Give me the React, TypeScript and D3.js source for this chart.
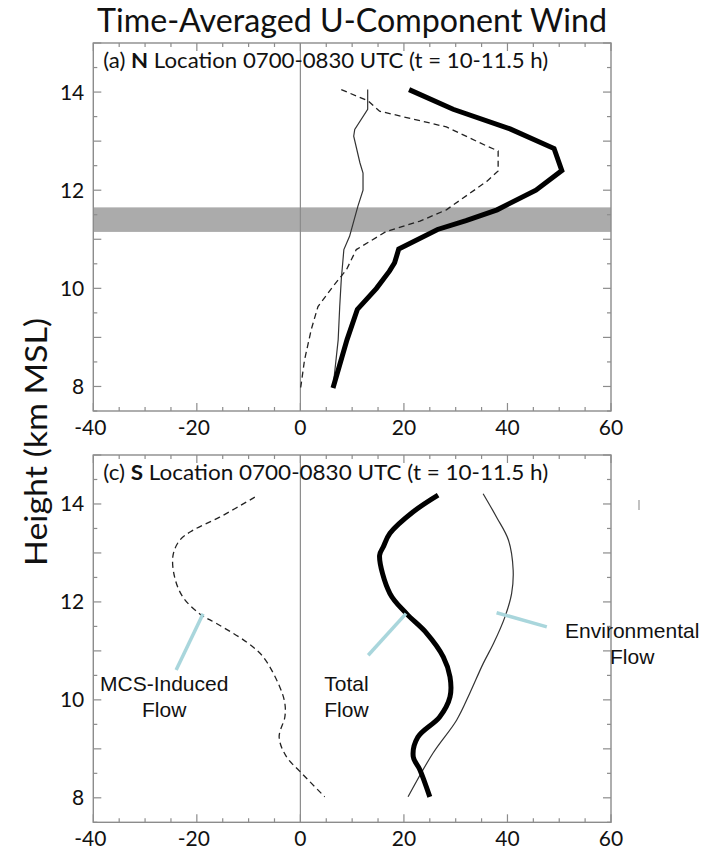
import React from 'react';
import * as d3 from 'd3';

// ---- data ----
const xTickLabels = [-40, -20, 0, 20, 40, 60];
const yTickLabels = [8, 10, 12, 14];
const bandRange = [11.15, 11.65];

// Panel (a) N location
const aTotalH = [14.05, 13.65, 13.25, 12.85, 12.4, 12.0, 11.6, 11.38, 11.2, 10.8, 10.52, 10.35, 10.0, 9.57, 8.95, 7.97];
const aTotalU = [21, 29.5, 40.5, 49, 50.5, 45.5, 38, 32, 26.5, 19, 18.2, 17.2, 14.7, 11, 9, 6.3];
const aMcsH = [14.05, 13.82, 13.61, 13.29, 12.9, 12.8, 12.39, 12.18, 11.6, 11.37, 11.16, 10.79, 10.38, 10.04, 9.63, 9.16, 8.54, 7.93];
const aMcsU = [7.9, 13.1, 15.3, 28.2, 36.0, 38.2, 38.2, 36.0, 28.2, 23.1, 16.6, 10.8, 8.9, 6.3, 3.4, 2.1, 0.8, 0];
const aEnvH = [14.05, 13.65, 13.24, 13.1, 12.56, 12.35, 12.0, 11.67, 11.06, 10.79, 10.18, 9.63, 8.95, 7.97];
const aEnvU = [13.0, 13.0, 10.5, 10.3, 11.5, 12.1, 12.1, 11.1, 9.5, 8.4, 7.9, 7.6, 7.3, 6.3];

// Panel (c) S location
const cMcsH = [14.14, 13.73, 13.46, 13.26, 12.95, 12.51, 12.1, 11.76, 11.56, 11.18, 10.88, 10.27, 9.93, 9.65, 9.24, 8.84, 8.53, 8.02];
const cMcsU = [-8.8, -15.6, -20.8, -23.3, -24.6, -24.3, -22.7, -19.5, -16.2, -10.4, -7.2, -4.0, -3.0, -3.0, -4.1, -2.7, 0, 4.7];
const cTotalH = [14.18, 13.84, 13.4, 13.12, 12.95, 12.17, 11.76, 11.36, 10.88, 10.47, 10.06, 9.65, 9.24, 8.84, 8.57, 8.02];
const cTotalU = [26.6, 21.8, 17.3, 16.0, 15.3, 17.3, 20.5, 24.4, 27.6, 28.9, 28.9, 26.9, 22.7, 21.8, 23.1, 25.0];
const cEnvH = [14.21, 13.73, 13.26, 12.65, 12.17, 11.69, 11.15, 10.74, 10.13, 9.59, 8.91, 8.02];
const cEnvU = [35.3, 37.9, 40.2, 41.1, 40.8, 39.5, 37.3, 35.3, 32.7, 30.2, 25.6, 20.8];

// Annotations (panel c): [u1, h1, u2, h2]
const annotLines = [
  [-18.8, 11.76, -24.0, 10.61],
  [20.4, 11.76, 13.1, 10.91],
  [37.9, 11.78, 47.6, 11.49],
];
const annotLabels = [
  { u: -26.3, h: 10.18, lines: ['MCS-Induced', 'Flow'] },
  { u: 8.9, h: 10.18, lines: ['Total', 'Flow'] },
  { u: 64.1, h: 11.26, lines: ['Environmental', 'Flow'] },
];

const MYRIAD = 'Lato, "Open Sans", sans-serif';
const ARIAL = '"Liberation Sans", Arial, sans-serif';

type PanelProps = {
  top: number;
  bottom: number;
  header: [string, string, string];
  series: { h: number[]; u: number[]; kind: 'total' | 'mcs' | 'env' }[];
  band?: number[];
  curve: d3.CurveFactory;
  annotate?: boolean;
};

const LEFT = 93.3;
const RIGHT = 611;

function Panel({ top, bottom, header, series, band, curve, annotate }: PanelProps) {
  const x = d3.scaleLinear().domain([-40, 60]).range([LEFT, RIGHT]);
  const y = d3.scaleLinear().domain([7.5, 15]).range([bottom, top]);
  const line = d3
    .line<[number, number]>()
    .x((d) => x(d[0]))
    .y((d) => y(d[1]))
    .curve(curve);
  const axisColor = '#8c8c8c';
  const xMinor = d3.range(-40, 60.1, 5);
  const yMinor = d3.range(7.5, 15.01, 0.5);
  const style = (k: string) =>
    k === 'total'
      ? { stroke: '#000', strokeWidth: 5, strokeDasharray: undefined }
      : k === 'mcs'
      ? { stroke: '#222', strokeWidth: 1.3, strokeDasharray: '6,4' }
      : { stroke: '#333', strokeWidth: 1.2, strokeDasharray: undefined };
  return (
    <g>
      {band && (
        <rect x={LEFT} width={RIGHT - LEFT} y={y(band[1])} height={y(band[0]) - y(band[1])} fill="#ababab" />
      )}
      <line x1={x(0)} x2={x(0)} y1={top} y2={bottom} stroke={axisColor} strokeWidth={1.2} />
      {/* ticks */}
      {xMinor.map((v) => {
        const len = v % 20 === 0 ? 8 : 4;
        return (
          <g key={'xt' + v}>
            <line x1={x(v)} x2={x(v)} y1={bottom} y2={bottom - len} stroke={axisColor} strokeWidth={1.2} />
            <line x1={x(v)} x2={x(v)} y1={top} y2={top + len} stroke={axisColor} strokeWidth={1.2} />
          </g>
        );
      })}
      {yMinor.map((v) => {
        const len = Math.abs(v - Math.round(v)) < 0.01 ? 8 : 4;
        return (
          <g key={'yt' + v}>
            <line x1={LEFT} x2={LEFT + len} y1={y(v)} y2={y(v)} stroke={axisColor} strokeWidth={1.2} />
            <line x1={RIGHT} x2={RIGHT - len} y1={y(v)} y2={y(v)} stroke={axisColor} strokeWidth={1.2} />
          </g>
        );
      })}
      <rect x={LEFT} y={top} width={RIGHT - LEFT} height={bottom - top} fill="none" stroke={axisColor} strokeWidth={1.4} />
      {/* tick labels */}
      {xTickLabels.map((v) => (
        <text key={'xl' + v} x={x(v) - (v < 0 ? 3 : 0)} y={bottom + 24} textAnchor="middle" fontFamily={MYRIAD} fontSize={21} fill="#111">
          {v}
        </text>
      ))}
      {yTickLabels.map((v) => (
        <text key={'yl' + v} x={LEFT - 9} y={y(v) + 7.5} textAnchor="end" fontFamily={MYRIAD} fontSize={21} fill="#111">
          {v}
        </text>
      ))}
      {/* header */}
      <text
        x={LEFT + 10}
        y={top + 25}
        fontFamily={MYRIAD}
        fontSize={21.5}
        fill="#111"
        textLength={445}
        lengthAdjust="spacingAndGlyphs"
      >
        {header[0]}
        <tspan fontWeight="bold">{header[1]}</tspan>
        {header[2]}
      </text>
      {/* series */}
      {series.map((s, i) => {
        const st = style(s.kind);
        const pts = s.u.map((u, j) => [u, s.h[j]] as [number, number]);
        return (
          <path
            key={i}
            d={line(pts) || ''}
            fill="none"
            stroke={st.stroke}
            strokeWidth={st.strokeWidth}
            strokeDasharray={st.strokeDasharray}
            strokeLinejoin="miter"
          />
        );
      })}
      {annotate &&
        annotLines.map((a, i) => (
          <line key={'al' + i} x1={x(a[0])} y1={y(a[1])} x2={x(a[2])} y2={y(a[3])} stroke="#a9d6dc" strokeWidth={3.5} />
        ))}
      {annotate &&
        annotLabels.map((l, i) => (
          <text key={'at' + i} x={x(l.u)} y={y(l.h)} textAnchor="middle" fontFamily={ARIAL} fontSize={21} fill="#111">
            {l.lines.map((t, k) => (
              <tspan key={k} x={x(l.u)} dy={k === 0 ? 0 : 26}>
                {t}
              </tspan>
            ))}
          </text>
        ))}
    </g>
  );
}

export default function App() {
  return (
    <svg
      width={711}
      height={851}
      style={{ position: 'absolute', left: 0, top: 0, background: '#fff' }}
      xmlns="http://www.w3.org/2000/svg"
    >
      <rect width={711} height={851} fill="#fff" />
      <text
        x={97}
        y={32}
        fontFamily={MYRIAD}
        fontSize={32}
        fill="#111"
        textLength={510}
        lengthAdjust="spacingAndGlyphs"
      >
        Time-Averaged U-Component Wind
      </text>
      <text
        transform="translate(47,318) rotate(-90)"
        textAnchor="end"
        fontFamily={MYRIAD}
        fontSize={31}
        fill="#111"
        textLength={248}
        lengthAdjust="spacingAndGlyphs"
      >
        Height (km MSL)
      </text>
      <Panel
        top={43}
        bottom={411}
        header={['(a) ', 'N', ' Location 0700-0830 UTC (t = 10-11.5 h)']}
        band={bandRange}
        curve={d3.curveLinear}
        series={[
          { h: aEnvH, u: aEnvU, kind: 'env' },
          { h: aMcsH, u: aMcsU, kind: 'mcs' },
          { h: aTotalH, u: aTotalU, kind: 'total' },
        ]}
      />
      <Panel
        top={455}
        bottom={822.3}
        header={['(c) ', 'S', ' Location 0700-0830 UTC (t = 10-11.5 h)']}
        curve={d3.curveCatmullRom}
        annotate
        series={[
          { h: cEnvH, u: cEnvU, kind: 'env' },
          { h: cMcsH, u: cMcsU, kind: 'mcs' },
          { h: cTotalH, u: cTotalU, kind: 'total' },
        ]}
      />
      <line x1={639} x2={639} y1={500} y2={510} stroke="#999" strokeWidth={1.2} />
    </svg>
  );
}
